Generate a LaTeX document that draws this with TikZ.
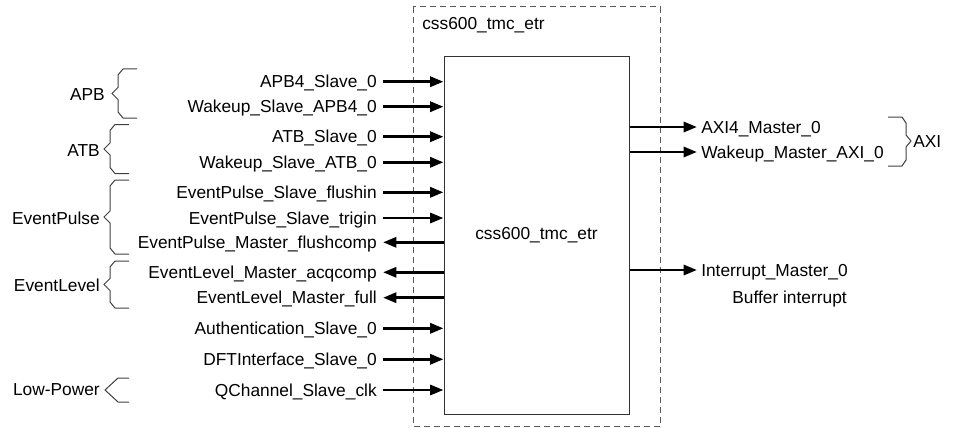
\documentclass[tikz,border=0pt]{standalone}
\usepackage{fontspec}
\setmainfont{Liberation Sans}
\usetikzlibrary{arrows.meta}
\newcommand\mybraceL[4]{% right x, top y, bottom y, middle y
  \draw[brc] (#1,#2) -- (#1-14,#2) -- (#1-19,#2+6) -- (#1-19,#4-6) -- (#1-25,#4)
    -- (#1-19,#4+6) -- (#1-19,#3-6) -- (#1-14,#3) -- (#1,#3);}
\begin{document}
\begin{tikzpicture}[x=0.75pt,y=-0.75pt,
  font=\fontsize{13}{15}\selectfont,
  lbl/.style={inner xsep=4.5pt, inner ysep=0pt, text height=9.3pt, text depth=0pt},
  rlbl/.style={lbl, inner xsep=3pt},
  glbl/.style={lbl, inner xsep=0pt},
  sig/.style={line width=2.2pt, -{Triangle[length=10pt,width=7.5pt]}},
  brc/.style={line width=0.75pt, draw=black!75},
  wrapbox/.style={draw=black!65, line width=0.75pt, dash pattern=on 4.5pt off 3pt},
  corebox/.style={draw=black!80, line width=0.75pt, inner sep=0pt,
    minimum width=138.75pt, minimum height=267.75pt}]
\useasboundingbox (0,0) rectangle (956,428);

% wrapper and core
\draw[wrapbox] (413,7) rectangle (660,426.5);
\node[glbl, anchor=west] (title) at (422,23) {css600\_tmc\_etr};
\node[corebox] (core) at (536.5,235.5) {css600\_tmc\_etr};

% left inputs
\node[lbl, anchor=east] (s1) at (383,81.7) {APB4\_Slave\_0};
\node[lbl, anchor=east] (s2) at (383,106.7) {Wakeup\_Slave\_APB4\_0};
\node[lbl, anchor=east] (s3) at (383,136.7) {ATB\_Slave\_0};
\node[lbl, anchor=east] (s4) at (383,162.3) {Wakeup\_Slave\_ATB\_0};
\node[lbl, anchor=east] (s5) at (383,192.3) {EventPulse\_Slave\_flushin};
\node[lbl, anchor=east] (s6) at (383,218) {EventPulse\_Slave\_trigin};
\node[lbl, anchor=east] (s7) at (383,242.3) {EventPulse\_Master\_flushcomp};
\node[lbl, anchor=east] (s8) at (383,272.3) {EventLevel\_Master\_acqcomp};
\node[lbl, anchor=east] (s9) at (383,297.7) {EventLevel\_Master\_full};
\node[lbl, anchor=east] (s10) at (383,328.3) {Authentication\_Slave\_0};
\node[lbl, anchor=east] (s11) at (383,359.3) {DFTInterface\_Slave\_0};
\node[lbl, anchor=east] (s12) at (383,390) {QChannel\_Slave\_clk};

\foreach \n in {s1,s2,s3,s4,s5,s6,s10,s11,s12}
  \draw[sig] (\n.east) -- (\n.east -| core.west);
\foreach \n in {s7,s8,s9}
  \draw[sig] (\n.east -| core.west) -- (\n.east);

% right outputs
\node[rlbl, anchor=west] (m1) at (697,127) {AXI4\_Master\_0};
\node[rlbl, anchor=west] (m2) at (697,152) {Wakeup\_Master\_AXI\_0};
\node[rlbl, anchor=west] (m3) at (697,270) {Interrupt\_Master\_0};
\node[glbl, anchor=east] (buf) at (847,297) {Buffer interrupt};
\foreach \n in {m1,m2,m3}
  \draw[sig] (\n.west -| core.east) -- (\n.west);

% group braces (left)
\mybraceL{137}{69}{118}{93.5}
\node[glbl, anchor=east] (gapb) at (105,94.5) {APB};
\mybraceL{129}{124.5}{173.5}{149}
\node[glbl, anchor=east] (gatb) at (100,150) {ATB};
\mybraceL{129}{180}{254}{217}
\node[glbl, anchor=east] (gep) at (100,218) {EventPulse};
\mybraceL{129}{261}{308}{284.5}
\node[glbl, anchor=east] (gel) at (100,285.5) {EventLevel};
\draw[brc] (129,378) -- (118,378) -- (105,390) -- (118,402) -- (129,402);
\node[glbl, anchor=east] (glp) at (100,389.5) {Low-Power};

% AXI brace (right)
\draw[brc] (888,117) -- (902,117) -- (906,123) -- (906,135) -- (911,141)
  -- (906,147) -- (906,160) -- (902,166) -- (888,166);
\node[glbl, anchor=west] (gaxi) at (913,141) {AXI};
\end{tikzpicture}
\end{document}
